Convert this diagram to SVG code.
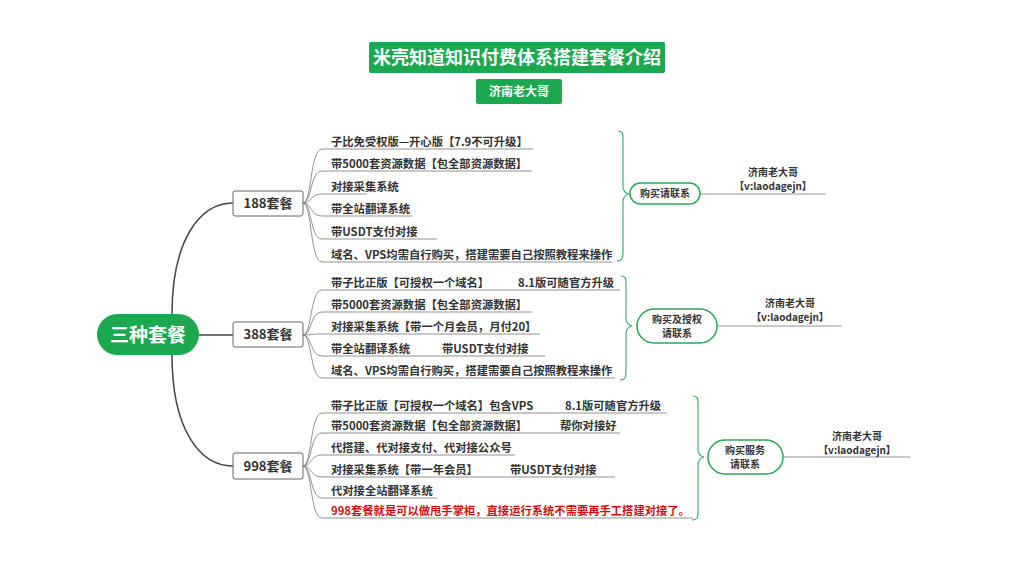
<svg xmlns="http://www.w3.org/2000/svg" width="1024" height="576" viewBox="0 0 1024 576">
<style>
text{font-family:"Noto Sans CJK SC","Liberation Sans",sans-serif;font-weight:bold;fill:#333}
.leaf{font-size:11.3px}
.c{stroke:#777;stroke-width:0.8;fill:none}
.m{stroke:#444;stroke-width:1.5;fill:none}
.br{stroke:#3cb371;stroke-width:1.2;fill:none}
.box{fill:#fff;stroke:#666;stroke-width:1}
.pill{fill:#fff;stroke:#2aa855;stroke-width:1.5}
.g{fill:#1ba84f}
.ct{font-size:10px;text-anchor:middle}
</style>
<rect width="1024" height="576" fill="#fff"/>
<g id="title"><rect class="g" x="369" y="42" width="296" height="31" rx="2"/><text x="517" y="64" font-size="18" text-anchor="middle" style="fill:#fff">米壳知道知识付费体系搭建套餐介绍</text></g>
<g id="subtitle"><rect class="g" x="476" y="79" width="86" height="25" rx="2"/><text x="519" y="96" font-size="12" text-anchor="middle" style="fill:#fff">济南老大哥</text></g>
<g id="connectors">
<path class="m" d="M172,314 C172,240 200,203 233,203"/>
<path class="m" d="M199,335 H233"/>
<path class="m" d="M172,355 C172,430 200,466 233,466"/>
<path class="c" d="M303,203 C312,203 310,149 322,149 H533"/>
<path class="c" d="M303,203 C312,203 310,171 322,171 H532"/>
<path class="c" d="M303,203 C312,203 310,194 322,194 H367"/>
<path class="c" d="M303,203 C312,203 310,216 322,216 H412"/>
<path class="c" d="M303,203 C312,203 310,239 322,239 H437"/>
<path class="c" d="M303,203 C312,203 310,262 322,262 H612"/>
<path class="c" d="M303,335 C312,335 310,290 322,290 H620"/>
<path class="c" d="M303,335 C312,335 310,312 322,312 H532"/>
<path class="c" d="M303,335 C312,335 310,334 322,334 H540"/>
<path class="c" d="M303,335 C312,335 310,356 322,356 H545"/>
<path class="c" d="M303,335 C312,335 310,378 322,378 H615"/>
<path class="c" d="M303,466 C312,466 310,413 322,413 H667"/>
<path class="c" d="M303,466 C312,466 310,433 322,433 H620"/>
<path class="c" d="M303,466 C312,466 310,455 322,455 H515"/>
<path class="c" d="M303,466 C312,466 310,477 322,477 H615"/>
<path class="c" d="M303,466 C312,466 310,498 322,498 H437"/>
<path class="c" d="M303,466 C312,466 310,518 322,518 H693"/>
<path class="br" d="M618,131 C623,131 623,134 623,140 V186 C623,191 625,193 629,194 C625,195 623,197 623,202 V252 C623,258 622,261 617,261"/>
<path class="br" d="M621,276 C626,276 626,279 626,285 V318 C626,323 628,325 632,326 C628,327 626,329 626,334 V372 C626,378 625,380 620,380"/>
<path class="br" d="M693,396 C698,396 698,399 698,405 V449 C698,454 700,456 704,457 C700,458 698,460 698,465 V512 C698,518 697,520 692,520"/>
<path class="c" d="M700,194 H826"/>
<path class="c" d="M717,326 H842"/>
<path class="c" d="M783,457 H910"/>
</g>
<g id="root"><rect class="g" x="97" y="314" width="102" height="41" rx="20.5"/><text x="148" y="342" font-size="19" text-anchor="middle" style="fill:#fff">三种套餐</text></g>
<g id="p188"><rect class="box" x="233" y="191" width="70" height="25" rx="2"/><text x="268" y="208" font-size="13" text-anchor="middle">188套餐</text></g>
<g id="p388"><rect class="box" x="233" y="322" width="70" height="25" rx="2"/><text x="268" y="339" font-size="13" text-anchor="middle">388套餐</text></g>
<g id="p998"><rect class="box" x="233" y="453" width="70" height="26" rx="2"/><text x="268" y="471" font-size="13" text-anchor="middle">998套餐</text></g>
<g id="leaves188">
<text class="leaf" x="331" y="146">子比免受权版—开心版【7.9不可升级】</text>
<text class="leaf" x="331" y="168">带5000套资源数据【包全部资源数据】</text>
<text class="leaf" x="331" y="191">对接采集系统</text>
<text class="leaf" x="331" y="213">带全站翻译系统</text>
<text class="leaf" x="331" y="236">带USDT支付对接</text>
<text class="leaf" x="331" y="259">域名、VPS均需自行购买，搭建需要自己按照教程来操作</text>
</g>
<g id="leaves388">
<text class="leaf" x="331" y="287">带子比正版【可授权一个域名】</text>
<text class="leaf" x="518" y="287">8.1版可随官方升级</text>
<text class="leaf" x="331" y="309">带5000套资源数据【包全部资源数据】</text>
<text class="leaf" x="331" y="331">对接采集系统【带一个月会员，月付20】</text>
<text class="leaf" x="331" y="353">带全站翻译系统</text>
<text class="leaf" x="442" y="353">带USDT支付对接</text>
<text class="leaf" x="331" y="375">域名、VPS均需自行购买，搭建需要自己按照教程来操作</text>
</g>
<g id="leaves998">
<text class="leaf" x="331" y="410">带子比正版【可授权一个域名】包含VPS</text>
<text class="leaf" x="565" y="410">8.1版可随官方升级</text>
<text class="leaf" x="331" y="430">带5000套资源数据【包全部资源数据】</text>
<text class="leaf" x="560" y="430">帮你对接好</text>
<text class="leaf" x="331" y="452">代搭建、代对接支付、代对接公众号</text>
<text class="leaf" x="331" y="474">对接采集系统【带一年会员】</text>
<text class="leaf" x="510" y="474">带USDT支付对接</text>
<text class="leaf" x="331" y="495">代对接全站翻译系统</text>
<text class="leaf" x="331" y="515" style="fill:#d01010">998套餐就是可以做甩手掌柜，直接运行系统不需要再手工搭建对接了。</text>
</g>
<g id="contact1"><rect class="pill" x="630" y="183" width="70" height="21" rx="10.5"/><text class="ct" x="665" y="197">购买请联系</text><text class="ct" x="773" y="176">济南老大哥</text><text class="ct" x="773" y="190">【v:laodagejn】</text></g>
<g id="contact2"><rect class="pill" x="637" y="309" width="80" height="34" rx="17"/><text class="ct" x="677" y="323">购买及授权</text><text class="ct" x="677" y="337">请联系</text><text class="ct" x="790" y="307">济南老大哥</text><text class="ct" x="790" y="321">【v:laodagejn】</text></g>
<g id="contact3"><rect class="pill" x="708" y="440" width="75" height="34" rx="17"/><text class="ct" x="745" y="454">购买服务</text><text class="ct" x="745" y="468">请联系</text><text class="ct" x="857" y="440">济南老大哥</text><text class="ct" x="857" y="454">【v:laodagejn】</text></g>
</svg>
